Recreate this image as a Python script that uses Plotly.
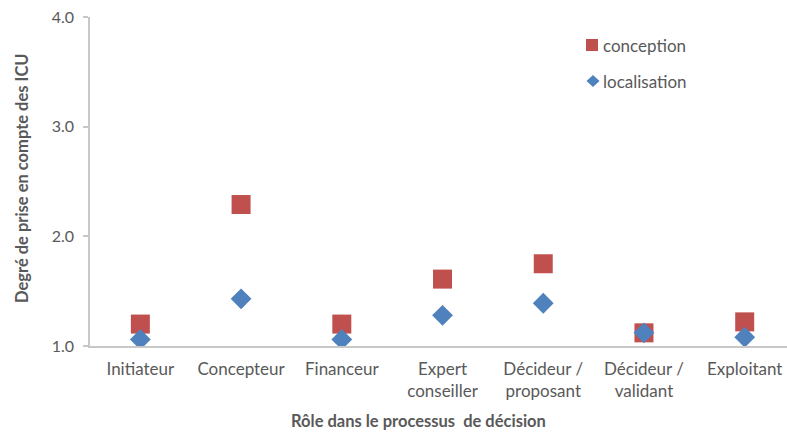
import plotly.graph_objects as go

categories = ["Initiateur", "Concepteur", "Financeur", "Expert<br>conseiller",
              "Décideur /<br>proposant", "Décideur /<br>validant", "Exploitant"]
conception = [1.20, 2.29, 1.20, 1.61, 1.75, 1.12, 1.22]
localisation = [1.06, 1.43, 1.06, 1.28, 1.39, 1.12, 1.08]
y_ticks = [1.0, 2.0, 3.0, 4.0]

FONT = "Lato"
GRAY = "#595959"
RED = "#C0504D"
BLUE = "#4F81BD"
W, H = 787, 432
L, R, T, B = 90, 0, 17, 86
PW, PH = W - L - R, H - T - B


def px(x):
    return (x - L) / PW


def py(y):
    return (H - B - y) / PH


x_idx = list(range(len(categories)))

fig = go.Figure()
fig.add_trace(go.Scatter(
    x=x_idx, y=conception, mode="markers", name="conception",
    marker=dict(symbol="square", size=19, color=RED),
))
fig.add_trace(go.Scatter(
    x=x_idx, y=localisation, mode="markers", name="localisation",
    marker=dict(symbol="diamond", size=16, color=BLUE),
))

shapes = [
    dict(type="rect", xref="paper", yref="paper",
         x0=px(586), x1=px(598), y0=py(51), y1=py(39),
         fillcolor=RED, line=dict(width=0)),
    dict(type="path", xref="paper", yref="paper",
         path=(f"M {px(593)},{py(75)} L {px(599.5)},{py(81)} "
               f"L {px(593)},{py(87)} L {px(586.5)},{py(81)} Z"),
         fillcolor=BLUE, line=dict(width=0)),
]

annotations = [
    dict(text="conception", xref="paper", yref="paper", x=px(601), y=py(45),
         xanchor="left", yanchor="middle", showarrow=False,
         font=dict(family=FONT, size=17, color=GRAY)),
    dict(text="localisation", xref="paper", yref="paper", x=px(601), y=py(81),
         xanchor="left", yanchor="middle", showarrow=False,
         font=dict(family=FONT, size=17, color=GRAY)),
    dict(text="<b>Rôle dans le processus  de décision</b>", xref="paper", yref="paper",
         x=px(418), y=py(421), xanchor="center", yanchor="middle", showarrow=False,
         font=dict(family=FONT, size=16.5, color=GRAY)),
    dict(text="<b>Degré de prise en compte des ICU</b>", xref="paper", yref="paper",
         x=px(22), y=py(178), xanchor="center", yanchor="middle", showarrow=False,
         textangle=-90, font=dict(family=FONT, size=16.5, color=GRAY)),
]

fig.update_layout(
    width=W, height=H,
    margin=dict(l=L, r=R, t=T, b=B, autoexpand=False),
    paper_bgcolor="white", plot_bgcolor="white",
    font=dict(family=FONT, size=16, color=GRAY),
    showlegend=False,
    hovermode=False,
    shapes=shapes,
    annotations=annotations,
    xaxis=dict(
        tickmode="array", tickvals=x_idx, ticktext=categories,
        range=[-0.5, 6.42], showgrid=False, zeroline=False,
        showline=True, linecolor="#C8C8C8", linewidth=1.5,
        ticks="", ticklabelstandoff=7, automargin=False,
        tickfont=dict(family=FONT, size=17, color=GRAY),
    ),
    yaxis=dict(
        range=[1.0, 4.0], tickvals=y_ticks, ticktext=[f"{v:.1f}" for v in y_ticks],
        showgrid=False, zeroline=False,
        showline=True, linecolor="#C8C8C8", linewidth=1.5,
        ticks="outside", ticklen=5, tickcolor="#C8C8C8", tickwidth=1.5,
        ticklabelstandoff=6, automargin=False,
        tickfont=dict(family=FONT, size=16, color=GRAY),
    ),
)

fig.write_html("out.html", config={"displayModeBar": False},
               post_script="document.body.style.margin='0';")
